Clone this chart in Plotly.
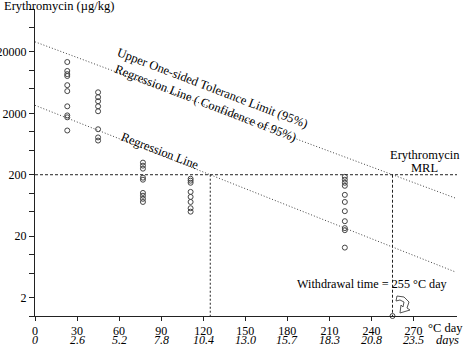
import plotly.graph_objects as go

# ---------------- data ----------------
col_days = [23, 45, 77, 111, 221]
col1_vals = [13700, 9800, 8700, 8100, 5750, 4600, 2600, 1850, 1720, 1050]
col2_vals = [4400, 3660, 3150, 2600, 2160, 1100, 810, 720]
col3_vals = [315, 281, 251, 179, 166, 101, 91, 81, 72]
col4_vals = [172, 160, 148, 105, 87, 72, 57, 50]
col5_vals = [185, 166, 148, 132, 94, 72, 51, 35, 27, 25, 13]

line_x = [0, 300]
regression_y = [2700, 5.2]
tolerance_y = [29200, 83]

mrl = 200
regression_cross = 125
withdrawal_time = 255

x_ticks = [0, 30, 60, 90, 120, 150, 180, 210, 240, 270]
day_labels = ["0", "2.6", "5.2", "7.8", "10.4", "13.0", "15.7", "18.3", "20.8", "23.5"]
y_tickvals = [1, 2, 5, 10, 20, 50, 100, 200, 500, 1000, 2000, 5000, 10000, 20000, 50000, 100000]
y_labeled = [2, 20, 200, 2000, 20000]

FONT = "Liberation Serif"
INK = "#222"

# ---------------- figure ----------------
W, H = 464, 346
L, R, T, B = 35, 7, 9, 30
fig = go.Figure()

columns = [col1_vals, col2_vals, col3_vals, col4_vals, col5_vals]
for d, vals in zip(col_days, columns):
    fig.add_trace(go.Scatter(
        x=[d] * len(vals), y=vals, mode="markers",
        marker=dict(symbol="circle-open", size=5, color="#444", line=dict(width=1)),
        showlegend=False, hoverinfo="skip"))

fig.add_trace(go.Scatter(x=line_x, y=regression_y, mode="lines",
                         line=dict(color="#444", width=1, dash="1px,2px"), showlegend=False))
fig.add_trace(go.Scatter(x=line_x, y=tolerance_y, mode="lines",
                         line=dict(color="#444", width=1, dash="1px,2px"), showlegend=False))

# MRL horizontal
fig.add_trace(go.Scatter(x=[0, 301], y=[mrl, mrl], mode="lines",
                         line=dict(color=INK, width=1, dash="3px,2px"), showlegend=False))
# vertical drops
fig.add_trace(go.Scatter(x=[regression_cross, regression_cross], y=[mrl, 1], mode="lines",
                         line=dict(color=INK, width=1, dash="2px,2px"), showlegend=False))
fig.add_trace(go.Scatter(x=[withdrawal_time, withdrawal_time], y=[mrl, 1], mode="lines",
                         line=dict(color=INK, width=1, dash="3px,2px"), showlegend=False))
fig.add_trace(go.Scatter(x=[withdrawal_time], y=[1], mode="markers", cliponaxis=False,
                         marker=dict(symbol="circle-open", size=5, color="#444", line=dict(width=1)),
                         showlegend=False))

pw, ph = W - L - R, H - T - B


def px(xp):
    return (xp - L) / pw


def py(yp):
    return (H - B - yp) / ph


# curved hollow arrow near withdrawal label
pts = [(397, 296), (404, 297), (409, 302), (407, 308), (410, 310), (400, 313),
       (401, 305), (403, 307), (404, 302), (400, 300), (396, 301)]
path = "M " + " L ".join(f"{px(a):.4f},{py(b):.4f}" for a, b in pts) + " Z"
fig.add_shape(type="path", path=path, xref="paper", yref="paper",
              line=dict(color="#555", width=1), fillcolor="white")

ann = []


def text(x, y, s, size=12.5, angle=0, italic=False, xanchor="center"):
    ann.append(dict(x=px(x), y=py(y), xref="paper", yref="paper", text=s,
                    showarrow=False, textangle=angle, xanchor=xanchor, yanchor="middle",
                    font=dict(family=FONT, size=size, color="black",
                              style="italic" if italic else "normal")))


text(2, 6, "Erythromycin (µg/kg)", xanchor="left")
text(212, 88, "Upper One-sided Tolerance Limit (95%)", angle=21)
text(205, 103, "Regression Line ( Confidence of 95%)", angle=21)
text(160, 151, "Regression Line", angle=21)
text(425, 155, "Erythromycin")
text(424, 168, "MRL")
text(372, 284, "Withdrawal time = 255 °C day", size=12.2)
text(445, 328, "°C day")
text(447, 340, "days", italic=True)

# second row of x tick labels: days
for t, d in zip(x_ticks, day_labels):
    ann.append(dict(x=t, y=py(340), xref="x", yref="paper", text=d, showarrow=False,
                    xanchor="center", yanchor="middle",
                    font=dict(family=FONT, size=12, color="black", style="italic")))
fig.update_layout(annotations=ann)

fig.update_xaxes(range=[0, 301], tickvals=x_ticks, ticktext=[str(t) for t in x_ticks],
                 ticks="outside", ticklen=4, tickcolor=INK, showline=True, linecolor=INK,
                 linewidth=1, showgrid=False, zeroline=False, automargin=False,
                 tickfont=dict(family=FONT, size=12, color="black"))
fig.update_yaxes(type="log", range=[0, 5], tickvals=y_tickvals,
                 ticktext=[str(v) if v in y_labeled else "" for v in y_tickvals],
                 ticks="outside", ticklen=5, tickcolor=INK, showline=True, linecolor=INK,
                 linewidth=1, showgrid=False, zeroline=False, automargin=False,
                 tickfont=dict(family=FONT, size=12, color="black"))

fig.update_layout(width=W, height=H, margin=dict(l=L, r=R, t=T, b=B, autoexpand=False),
                  plot_bgcolor="white", paper_bgcolor="white", showlegend=False)

fig.write_html("out.html", config={"displayModeBar": False},
               post_script="document.body.style.margin='0';")
